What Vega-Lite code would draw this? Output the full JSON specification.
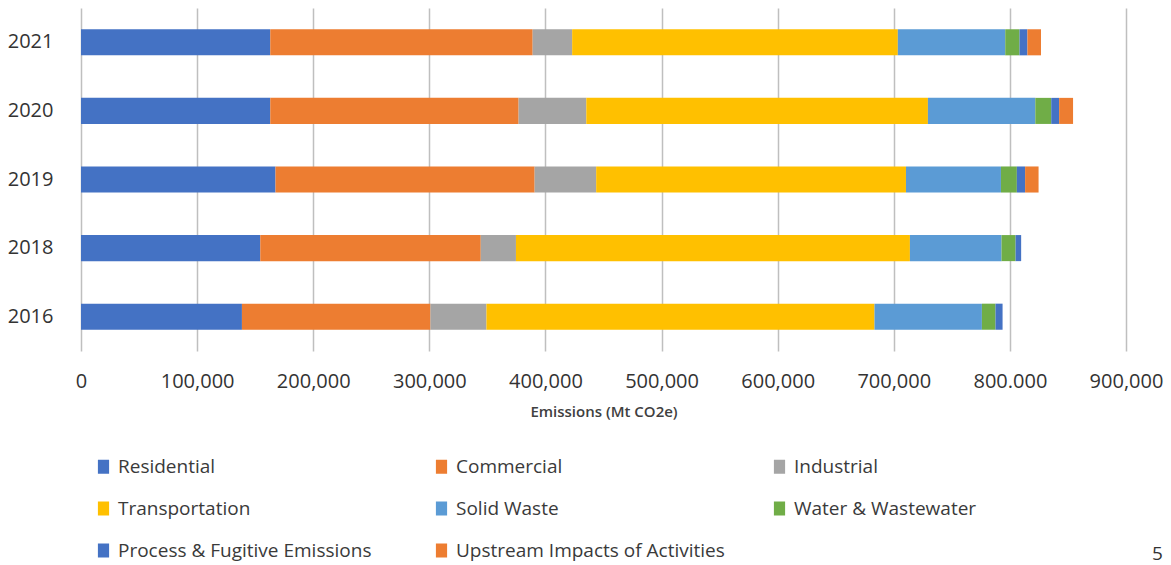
{
  "$schema": "https://vega.github.io/schema/vega-lite/v6.json",
  "width": 1045,
  "height": 343,
  "autosize": {"type": "none"},
  "padding": {"left": 81, "top": 8, "right": 45, "bottom": 214},
  "background": "white",
  "config": {"view": {"stroke": null}, "font": "Open Sans"},
  "title": {"text": "5", "orient": "bottom", "anchor": "end", "frame": "bounds", "fontSize": 19, "fontWeight": "normal", "color": "#333333", "offset": -7, "baseline": "middle"},
  "data": {
    "values": [
      {"year": "2021", "sector": "Residential", "value": 163000},
      {"year": "2021", "sector": "Commercial", "value": 226000},
      {"year": "2021", "sector": "Industrial", "value": 34000},
      {"year": "2021", "sector": "Transportation", "value": 280500},
      {"year": "2021", "sector": "Solid Waste", "value": 92500},
      {"year": "2021", "sector": "Water & Wastewater", "value": 12300},
      {"year": "2021", "sector": "Process & Fugitive Emissions", "value": 6800},
      {"year": "2021", "sector": "Upstream Impacts of Activities", "value": 11700},
      {"year": "2020", "sector": "Residential", "value": 163000},
      {"year": "2020", "sector": "Commercial", "value": 213900},
      {"year": "2020", "sector": "Industrial", "value": 58300},
      {"year": "2020", "sector": "Transportation", "value": 294200},
      {"year": "2020", "sector": "Solid Waste", "value": 92500},
      {"year": "2020", "sector": "Water & Wastewater", "value": 13700},
      {"year": "2020", "sector": "Process & Fugitive Emissions", "value": 6800},
      {"year": "2020", "sector": "Upstream Impacts of Activities", "value": 12000},
      {"year": "2019", "sector": "Residential", "value": 167500},
      {"year": "2019", "sector": "Commercial", "value": 223200},
      {"year": "2019", "sector": "Industrial", "value": 53000},
      {"year": "2019", "sector": "Transportation", "value": 266800},
      {"year": "2019", "sector": "Solid Waste", "value": 81800},
      {"year": "2019", "sector": "Water & Wastewater", "value": 13700},
      {"year": "2019", "sector": "Process & Fugitive Emissions", "value": 7100},
      {"year": "2019", "sector": "Upstream Impacts of Activities", "value": 11600},
      {"year": "2018", "sector": "Residential", "value": 154400},
      {"year": "2018", "sector": "Commercial", "value": 189900},
      {"year": "2018", "sector": "Industrial", "value": 30300},
      {"year": "2018", "sector": "Transportation", "value": 339300},
      {"year": "2018", "sector": "Solid Waste", "value": 78900},
      {"year": "2018", "sector": "Water & Wastewater", "value": 12100},
      {"year": "2018", "sector": "Process & Fugitive Emissions", "value": 4800},
      {"year": "2016", "sector": "Residential", "value": 138600},
      {"year": "2016", "sector": "Commercial", "value": 162400},
      {"year": "2016", "sector": "Industrial", "value": 48200},
      {"year": "2016", "sector": "Transportation", "value": 334200},
      {"year": "2016", "sector": "Solid Waste", "value": 92500},
      {"year": "2016", "sector": "Water & Wastewater", "value": 11700},
      {"year": "2016", "sector": "Process & Fugitive Emissions", "value": 6100}
    ]
  },
  "transform": [
    {"calculate": "indexof(['Residential', 'Commercial', 'Industrial', 'Transportation', 'Solid Waste', 'Water & Wastewater', 'Process & Fugitive Emissions', 'Upstream Impacts of Activities'], datum.sector)", "as": "stackOrder"}
  ],
  "mark": {"type": "bar"},
  "encoding": {
    "y": {
      "field": "year",
      "type": "ordinal",
      "sort": ["2021", "2020", "2019", "2018", "2016"],
      "scale": {"paddingInner": 0.62, "paddingOuter": 0.31},
      "axis": {"title": null, "domain": false, "ticks": false, "grid": false, "labelPadding": 28, "labelFontSize": 20, "labelColor": "#333333"}
    },
    "x": {
      "field": "value",
      "type": "quantitative",
      "stack": "zero",
      "scale": {"domain": [0, 900000], "nice": false},
      "axis": {
        "values": [0, 100000, 200000, 300000, 400000, 500000, 600000, 700000, 800000, 900000],
        "labelExpr": "datum.value == 800000 ? '800.000' : format(datum.value, ',')",
        "title": "Emissions (Mt CO2e)",
        "domain": false,
        "ticks": false,
        "grid": true,
        "gridColor": "#BFBFBF",
        "gridWidth": 1.5,
        "labelPadding": 20,
        "labelFontSize": 20,
        "labelColor": "#333333",
        "labelFlush": false,
        "titleFontSize": 15,
        "titleFontWeight": 600,
        "titleColor": "#404040",
        "titlePadding": 13
      }
    },
    "order": {"field": "stackOrder", "type": "quantitative", "sort": "ascending"},
    "color": {
      "field": "sector",
      "type": "nominal",
      "sort": ["Residential", "Commercial", "Industrial", "Transportation", "Solid Waste", "Water & Wastewater", "Process & Fugitive Emissions", "Upstream Impacts of Activities"],
      "scale": {
        "domain": ["Residential", "Commercial", "Industrial", "Transportation", "Solid Waste", "Water & Wastewater", "Process & Fugitive Emissions", "Upstream Impacts of Activities"],
        "range": ["#4472C4", "#ED7D31", "#A5A5A5", "#FFC000", "#5B9BD5", "#70AD47", "#4472C4", "#ED7D31"]
      },
      "legend": {
        "orient": "none",
        "legendX": 13,
        "legendY": 449,
        "direction": "horizontal",
        "columns": 3,
        "gridAlign": "all",
        "columnPadding": 45,
        "rowPadding": 22,
        "symbolType": "M-0.8,-1H0.8V1H-0.8Z",
        "symbolSize": 196,
        "symbolStrokeWidth": 0,
        "symbolOpacity": 1,
        "labelFontSize": 19,
        "labelColor": "#3a3a3a",
        "labelOffset": 5,
        "labelLimit": 400,
        "title": null,
        "padding": 0
      }
    }
  }
}
